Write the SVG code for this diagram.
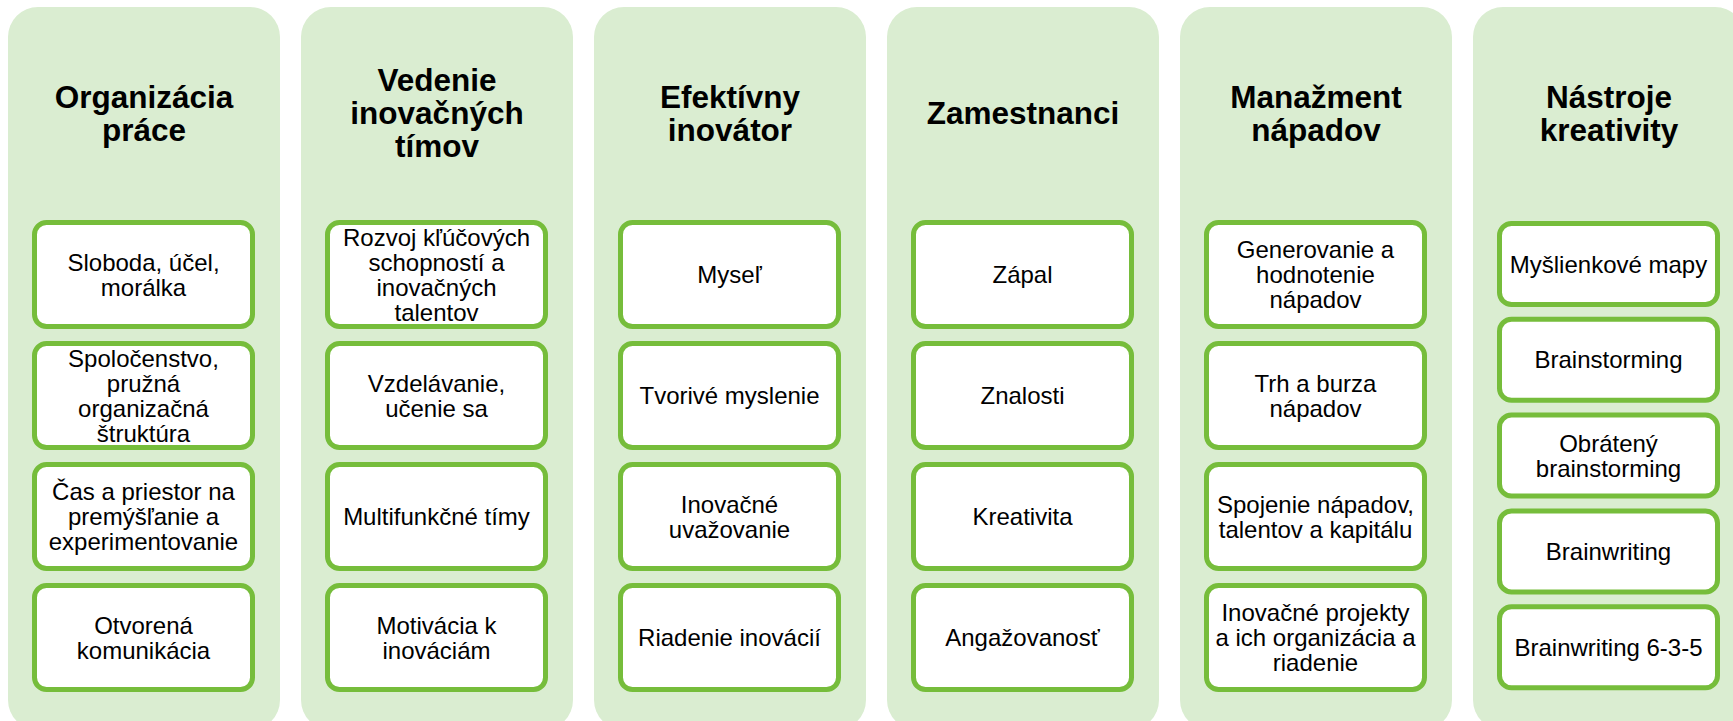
<svg xmlns="http://www.w3.org/2000/svg" width="1733" height="721" viewBox="0 0 1733 721">
<style>
.col{fill:#DAEDD1;}
.box{fill:#FFFFFF;stroke:#76BD3B;stroke-width:5;}
.t{font-family:"Liberation Sans",Arial,sans-serif;font-weight:bold;font-size:31.5px;fill:#000;text-anchor:middle;}
.b{font-family:"Liberation Sans",Arial,sans-serif;font-size:24px;fill:#000;text-anchor:middle;}
</style>
<rect width="1733" height="721" fill="#FFFFFF"/>

<!-- Column 1 -->
<g id="col1">
<rect class="col" x="8" y="7" width="272" height="723" rx="30"/>
<text class="t" x="144" y="107.5"><tspan x="144">Organizácia</tspan><tspan x="144" dy="33">práce</tspan></text>
</g>
<g id="c1n1"><rect class="box" x="34.5" y="222.5" width="218" height="104" rx="12"/>
<text class="b" x="143.5" y="270.5"><tspan x="143.5">Sloboda, účel,</tspan><tspan x="143.5" dy="25">morálka</tspan></text></g>
<g id="c1n2"><rect class="box" x="34.5" y="343.5" width="218" height="104" rx="12"/>
<text class="b" x="143.5" y="366.5"><tspan x="143.5">Spoločenstvo,</tspan><tspan x="143.5" dy="25">pružná</tspan><tspan x="143.5" dy="25">organizačná</tspan><tspan x="143.5" dy="25">štruktúra</tspan></text></g>
<g id="c1n3"><rect class="box" x="34.5" y="464.5" width="218" height="104" rx="12"/>
<text class="b" x="143.5" y="500"><tspan x="143.5">Čas a priestor na</tspan><tspan x="143.5" dy="25">premýšľanie a</tspan><tspan x="143.5" dy="25">experimentovanie</tspan></text></g>
<g id="c1n4"><rect class="box" x="34.5" y="585.5" width="218" height="104" rx="12"/>
<text class="b" x="143.5" y="633.5"><tspan x="143.5">Otvorená</tspan><tspan x="143.5" dy="25">komunikácia</tspan></text></g>

<!-- Column 2 -->
<g id="col2">
<rect class="col" x="301" y="7" width="272" height="723" rx="30"/>
<text class="t" x="437" y="91"><tspan x="437">Vedenie</tspan><tspan x="437" dy="33">inovačných</tspan><tspan x="437" dy="33">tímov</tspan></text>
</g>
<g id="c2n1"><rect class="box" x="327.5" y="222.5" width="218" height="104" rx="12"/>
<text class="b" x="436.5" y="245.5"><tspan x="436.5">Rozvoj kľúčových</tspan><tspan x="436.5" dy="25">schopností a</tspan><tspan x="436.5" dy="25">inovačných</tspan><tspan x="436.5" dy="25">talentov</tspan></text></g>
<g id="c2n2"><rect class="box" x="327.5" y="343.5" width="218" height="104" rx="12"/>
<text class="b" x="436.5" y="391.5"><tspan x="436.5">Vzdelávanie,</tspan><tspan x="436.5" dy="25">učenie sa</tspan></text></g>
<g id="c2n3"><rect class="box" x="327.5" y="464.5" width="218" height="104" rx="12"/>
<text class="b" x="436.5" y="525">Multifunkčné tímy</text></g>
<g id="c2n4"><rect class="box" x="327.5" y="585.5" width="218" height="104" rx="12"/>
<text class="b" x="436.5" y="633.5"><tspan x="436.5">Motivácia k</tspan><tspan x="436.5" dy="25">inováciám</tspan></text></g>

<!-- Column 3 -->
<g id="col3">
<rect class="col" x="594" y="7" width="272" height="723" rx="30"/>
<text class="t" x="730" y="107.5"><tspan x="730">Efektívny</tspan><tspan x="730" dy="33">inovátor</tspan></text>
</g>
<g id="c3n1"><rect class="box" x="620.5" y="222.5" width="218" height="104" rx="12"/>
<text class="b" x="729.5" y="283">Myseľ</text></g>
<g id="c3n2"><rect class="box" x="620.5" y="343.5" width="218" height="104" rx="12"/>
<text class="b" x="729.5" y="404">Tvorivé myslenie</text></g>
<g id="c3n3"><rect class="box" x="620.5" y="464.5" width="218" height="104" rx="12"/>
<text class="b" x="729.5" y="512.5"><tspan x="729.5">Inovačné</tspan><tspan x="729.5" dy="25">uvažovanie</tspan></text></g>
<g id="c3n4"><rect class="box" x="620.5" y="585.5" width="218" height="104" rx="12"/>
<text class="b" x="729.5" y="646">Riadenie inovácií</text></g>

<!-- Column 4 -->
<g id="col4">
<rect class="col" x="887" y="7" width="272" height="723" rx="30"/>
<text class="t" x="1023" y="124">Zamestnanci</text>
</g>
<g id="c4n1"><rect class="box" x="913.5" y="222.5" width="218" height="104" rx="12"/>
<text class="b" x="1022.5" y="283">Zápal</text></g>
<g id="c4n2"><rect class="box" x="913.5" y="343.5" width="218" height="104" rx="12"/>
<text class="b" x="1022.5" y="404">Znalosti</text></g>
<g id="c4n3"><rect class="box" x="913.5" y="464.5" width="218" height="104" rx="12"/>
<text class="b" x="1022.5" y="525">Kreativita</text></g>
<g id="c4n4"><rect class="box" x="913.5" y="585.5" width="218" height="104" rx="12"/>
<text class="b" x="1022.5" y="646">Angažovanosť</text></g>

<!-- Column 5 -->
<g id="col5">
<rect class="col" x="1180" y="7" width="272" height="723" rx="30"/>
<text class="t" x="1316" y="107.5"><tspan x="1316">Manažment</tspan><tspan x="1316" dy="33">nápadov</tspan></text>
</g>
<g id="c5n1"><rect class="box" x="1206.5" y="222.5" width="218" height="104" rx="12"/>
<text class="b" x="1315.5" y="258"><tspan x="1315.5">Generovanie a</tspan><tspan x="1315.5" dy="25">hodnotenie</tspan><tspan x="1315.5" dy="25">nápadov</tspan></text></g>
<g id="c5n2"><rect class="box" x="1206.5" y="343.5" width="218" height="104" rx="12"/>
<text class="b" x="1315.5" y="391.5"><tspan x="1315.5">Trh a burza</tspan><tspan x="1315.5" dy="25">nápadov</tspan></text></g>
<g id="c5n3"><rect class="box" x="1206.5" y="464.5" width="218" height="104" rx="12"/>
<text class="b" x="1315.5" y="512.5"><tspan x="1315.5">Spojenie nápadov,</tspan><tspan x="1315.5" dy="25">talentov a kapitálu</tspan></text></g>
<g id="c5n4"><rect class="box" x="1206.5" y="585.5" width="218" height="104" rx="12"/>
<text class="b" x="1315.5" y="621"><tspan x="1315.5">Inovačné projekty</tspan><tspan x="1315.5" dy="25">a ich organizácia a</tspan><tspan x="1315.5" dy="25">riadenie</tspan></text></g>

<!-- Column 6 -->
<g id="col6">
<rect class="col" x="1473" y="7" width="272" height="723" rx="30"/>
<text class="t" x="1609" y="107.5"><tspan x="1609">Nástroje</tspan><tspan x="1609" dy="33">kreativity</tspan></text>
</g>
<g id="c6n1"><rect class="box" x="1499.5" y="223.5" width="218" height="81" rx="12"/>
<text class="b" x="1608.5" y="272.5">Myšlienkové mapy</text></g>
<g id="c6n2"><rect class="box" x="1499.5" y="319.3" width="218" height="81" rx="12"/>
<text class="b" x="1608.5" y="368.3">Brainstorming</text></g>
<g id="c6n3"><rect class="box" x="1499.5" y="415.1" width="218" height="81" rx="12"/>
<text class="b" x="1608.5" y="451.6"><tspan x="1608.5">Obrátený</tspan><tspan x="1608.5" dy="25">brainstorming</tspan></text></g>
<g id="c6n4"><rect class="box" x="1499.5" y="510.9" width="218" height="81" rx="12"/>
<text class="b" x="1608.5" y="559.9">Brainwriting</text></g>
<g id="c6n5"><rect class="box" x="1499.5" y="606.7" width="218" height="81" rx="12"/>
<text class="b" x="1608.5" y="655.7">Brainwriting 6-3-5</text></g>

<g id="connectors"></g>
</svg>
